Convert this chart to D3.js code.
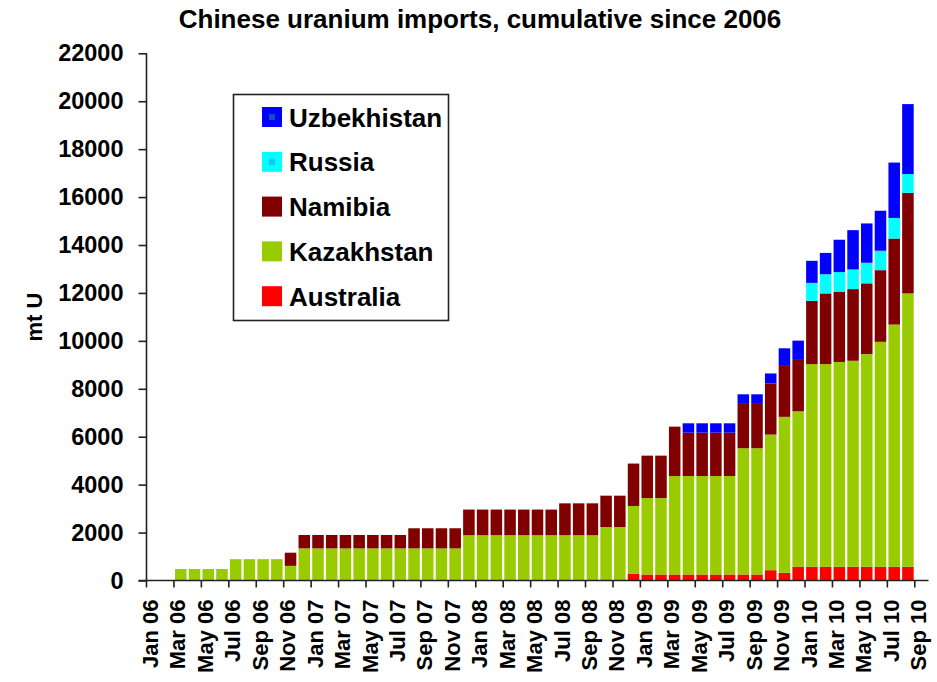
<!DOCTYPE html>
<html>
<head>
<meta charset="utf-8">
<script src="https://cdn.jsdelivr.net/npm/d3@7/dist/d3.min.js"></script>
<style>
  html, body { margin: 0; padding: 0; background: #ffffff; }
  svg { display: block; font-family: "Liberation Sans", Arial, sans-serif; font-weight: bold; }
</style>
</head>
<body>
<svg id="chart" width="937" height="682"></svg>
<script>
// ---------- DATA ----------
const months = [
  "Jan 06","Feb 06","Mar 06","Apr 06","May 06","Jun 06","Jul 06","Aug 06","Sep 06","Oct 06","Nov 06","Dec 06",
  "Jan 07","Feb 07","Mar 07","Apr 07","May 07","Jun 07","Jul 07","Aug 07","Sep 07","Oct 07","Nov 07","Dec 07",
  "Jan 08","Feb 08","Mar 08","Apr 08","May 08","Jun 08","Jul 08","Aug 08","Sep 08","Oct 08","Nov 08","Dec 08",
  "Jan 09","Feb 09","Mar 09","Apr 09","May 09","Jun 09","Jul 09","Aug 09","Sep 09","Oct 09","Nov 09","Dec 09",
  "Jan 10","Feb 10","Mar 10","Apr 10","May 10","Jun 10","Jul 10","Aug 10","Sep 10"
];
const australia = [
  0,0,0,0,0,0,0,0,0,0,0,0,
  0,0,0,0,0,0,0,0,0,0,0,0,
  0,0,0,0,0,0,0,0,0,0,0,290,
  250,250,250,250,250,250,250,250,250,430,320,580,
  570,570,570,570,570,570,570,570,0
];
const kazakhstan = [
  0,0,480,480,480,480,890,890,890,890,610,1340,
  1340,1340,1340,1340,1340,1340,1340,1340,1340,1340,1340,1890,
  1890,1890,1890,1890,1890,1890,1890,1890,1890,2230,2230,2820,
  3190,3190,4110,4110,4110,4110,4110,5270,5270,5660,6510,6480,
  8460,8460,8550,8600,8880,9390,10110,11410,0
];
const namibia = [
  0,0,0,0,0,0,0,0,0,0,550,560,
  560,560,560,560,560,560,560,840,840,840,840,1070,
  1070,1070,1070,1070,1070,1070,1330,1330,1330,1310,1310,1770,
  1770,1770,2060,1810,1810,1810,1810,1850,1850,2130,2160,2180,
  2640,2950,2920,2990,2950,2990,3590,4200,0
];
const russia = [
  0,0,0,0,0,0,0,0,0,0,0,0,
  0,0,0,0,0,0,0,0,0,0,0,0,
  0,0,0,0,0,0,0,0,0,0,0,0,
  0,0,0,0,0,0,0,0,0,0,0,0,
  750,800,830,820,860,810,860,780,0
];
const uzbekhistan = [
  0,0,0,0,0,0,0,0,0,0,0,0,
  0,0,0,0,0,0,0,0,0,0,0,0,
  0,0,0,0,0,0,0,0,0,0,0,0,
  0,0,0,390,390,390,390,400,400,420,700,770,
  920,890,1350,1640,1640,1670,2310,2920,0
];
const seriesNames = ["Australia","Kazakhstan","Namibia","Russia","Uzbekhistan"];
const seriesColors = ["#ff0000","#99cc00","#800000","#00ffff","#0000ff"];
const legendOrder = ["Uzbekhistan","Russia","Namibia","Kazakhstan","Australia"];
const yTicks = [0,2000,4000,6000,8000,10000,12000,14000,16000,18000,20000,22000];
const titleText = "Chinese uranium imports, cumulative since 2006";
const yTitle = "mt U";

// ---------- BUILD ----------
const svg = d3.select("#chart");
const X0 = 146.5, X1 = 928.5, Y0 = 580.5, Y1 = 53.3;

const table = months.map((m, i) => ({
  month: m,
  Australia: australia[i],
  Kazakhstan: kazakhstan[i],
  Namibia: namibia[i],
  Russia: russia[i],
  Uzbekhistan: uzbekhistan[i]
}));

const x = d3.scaleBand().domain(months).range([X0, X1]).paddingInner(0.16).paddingOuter(0.08);
const y = d3.scaleLinear().domain([0, 22000]).range([Y0, Y1]);
const color = d3.scaleOrdinal().domain(seriesNames).range(seriesColors);

const stacked = d3.stack().keys(seriesNames)(table);

svg.append("g")
  .selectAll("g")
  .data(stacked)
  .join("g")
  .attr("fill", d => color(d.key))
  .selectAll("rect")
  .data(d => d.filter(s => s[1] - s[0] > 0))
  .join("rect")
  .attr("x", d => x(d.data.month))
  .attr("width", x.bandwidth())
  .attr("y", d => y(d[1]))
  .attr("height", d => y(d[0]) - y(d[1]));

// Y axis
const yAxis = svg.append("g")
  .attr("transform", `translate(${X0},0)`)
  .call(d3.axisLeft(y).tickValues(yTicks).tickSize(8).tickPadding(15).tickFormat(d3.format("d")));
yAxis.select(".domain").attr("stroke", "#222").attr("stroke-width", 1.6).attr("d", `M0,${Y1}V${Y0}`);
yAxis.selectAll(".tick line").attr("stroke", "#222").attr("stroke-width", 1.6);
yAxis.selectAll(".tick text")
  .attr("font-size", 23.5).attr("font-weight", "bold")
  .attr("font-family", "Liberation Sans, Arial, sans-serif").attr("fill", "#000");

// X axis
const step = x.step();
const xAxis = svg.append("g")
  .attr("transform", `translate(0,${Y0})`)
  .call(d3.axisBottom(x).tickValues(months.filter((m, i) => i % 2 === 0)).tickSize(7).tickSizeOuter(0));
xAxis.select(".domain").attr("stroke", "#222").attr("stroke-width", 1.6).attr("d", `M${X0 - 8},0H${X1}`);
xAxis.selectAll(".tick line").attr("stroke", "#222").attr("stroke-width", 1.6)
  .attr("transform", `translate(${-step / 2},0)`);
xAxis.selectAll(".tick text")
  .attr("font-size", 22).attr("font-weight", "bold")
  .attr("font-family", "Liberation Sans, Arial, sans-serif").attr("fill", "#000")
  .attr("text-anchor", "end")
  .attr("dy", null)
  .attr("dominant-baseline", "central")
  .attr("y", 0)
  .attr("transform", `translate(${-step / 2 + 4},19) rotate(-90)`);

// Title
svg.append("text")
  .attr("x", 480).attr("y", 28)
  .attr("text-anchor", "middle")
  .attr("font-size", 26).attr("fill", "#000")
  .text(titleText);

// Y title
svg.append("text")
  .attr("transform", "translate(42,317) rotate(-90)")
  .attr("text-anchor", "middle")
  .attr("font-size", 22).attr("fill", "#000")
  .text(yTitle);

// Legend
const lg = svg.append("g");
lg.append("rect")
  .attr("x", 233.5).attr("y", 94.5).attr("width", 215).attr("height", 226)
  .attr("fill", "#fff").attr("stroke", "#222").attr("stroke-width", 1.6);
const items = lg.selectAll("g.item").data(legendOrder).join("g")
  .attr("class", "item")
  .attr("transform", (d, i) => `translate(262,${107 + i * 44.8})`);
items.append("rect").attr("width", 20).attr("height", 20).attr("fill", d => color(d));
items.filter(d => d === "Uzbekhistan").append("rect")
  .attr("x", 7).attr("y", 7).attr("width", 6).attr("height", 6).attr("fill", "#1050b0");
items.filter(d => d === "Russia").append("rect")
  .attr("x", 7).attr("y", 7).attr("width", 6).attr("height", 6).attr("fill", "#10c8f0");
items.append("text")
  .attr("x", 27).attr("y", 19.5)
  .attr("font-size", 26).attr("fill", "#000")
  .text(d => d);
</script>
</body>
</html>
